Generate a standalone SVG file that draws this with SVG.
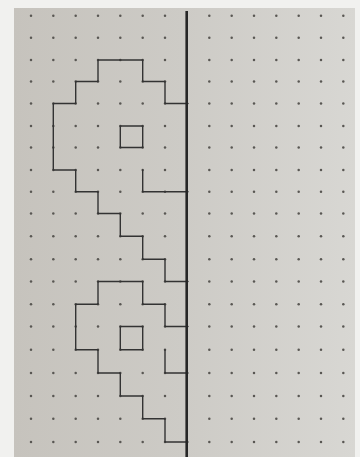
<svg xmlns="http://www.w3.org/2000/svg" width="360" height="457" viewBox="0 0 360 457">
<defs>
<linearGradient id="paper" x1="0" y1="0" x2="1" y2="0">
<stop offset="0" stop-color="#c6c3bd"/>
<stop offset="0.5" stop-color="#cdcbc6"/>
<stop offset="1" stop-color="#d8d7d3"/>
</linearGradient>
<g id="dotrow">
<circle cx="31" cy="0" r="1.25"/><circle cx="53.3" cy="0" r="1.25"/><circle cx="75.7" cy="0" r="1.25"/><circle cx="98" cy="0" r="1.25"/><circle cx="120.3" cy="0" r="1.25"/><circle cx="142.7" cy="0" r="1.25"/><circle cx="165" cy="0" r="1.25"/>
<circle cx="209.3" cy="0" r="1.25"/><circle cx="231.7" cy="0" r="1.25"/><circle cx="254" cy="0" r="1.25"/><circle cx="276.3" cy="0" r="1.25"/><circle cx="298.7" cy="0" r="1.25"/><circle cx="321" cy="0" r="1.25"/><circle cx="343.3" cy="0" r="1.25"/>
</g>
</defs>
<style>
.ink{fill:none;stroke:#333;stroke-width:1.4;stroke-linejoin:round;stroke-linecap:round}
.dots{fill:#595753}
</style>
<rect x="0" y="0" width="360" height="457" fill="#f1f1ef"/>
<rect x="14" y="8" width="341" height="449" fill="url(#paper)"/>
<g id="grid" class="dots">
<use href="#dotrow" y="15.7"/><use href="#dotrow" y="37.7"/><use href="#dotrow" y="60"/><use href="#dotrow" y="81.5"/><use href="#dotrow" y="103.5"/>
<use href="#dotrow" y="126"/><use href="#dotrow" y="147.5"/><use href="#dotrow" y="170"/><use href="#dotrow" y="191.7"/><use href="#dotrow" y="213.5"/>
<use href="#dotrow" y="236.3"/><use href="#dotrow" y="259.3"/><use href="#dotrow" y="281.5"/><use href="#dotrow" y="304.3"/><use href="#dotrow" y="326.5"/>
<use href="#dotrow" y="349.7"/><use href="#dotrow" y="373"/><use href="#dotrow" y="396"/><use href="#dotrow" y="418.7"/><use href="#dotrow" y="442"/>
</g>
<g id="upper-figure" class="ink">
<polyline points="188,103.5 165,103.5 165,81.5 142.7,81.5 142.7,60 98,60 98,81.5 75.7,81.5 75.7,103.5 53.3,103.5 53.3,170 75.7,170 75.7,191.7 98,191.7 98,213.5 120.3,213.5 120.3,236.3 142.7,236.3 142.7,259.3 165,259.3 165,281.5 188,281.5"/>
<polyline points="142.7,170 142.7,191.7 188,191.7"/>
<rect x="120.3" y="126" width="22.4" height="21.5"/>
</g>
<g id="lower-figure" class="ink">
<polyline points="188,326.5 165,326.5 165,304.3 142.7,304.3 142.7,281.5 98,281.5 98,304.3 75.7,304.3 75.7,349.7 98,349.7 98,373 120.3,373 120.3,396 142.7,396 142.7,418.7 165,418.7 165,442 188,442"/>
<polyline points="165,349.7 165,373 188,373"/>
<rect x="120.3" y="326.5" width="22.4" height="23.2"/>
</g>
<g id="axis">
<line x1="186.7" y1="11" x2="186.7" y2="457" stroke="#262626" stroke-width="2.6"/>
</g>
</svg>
